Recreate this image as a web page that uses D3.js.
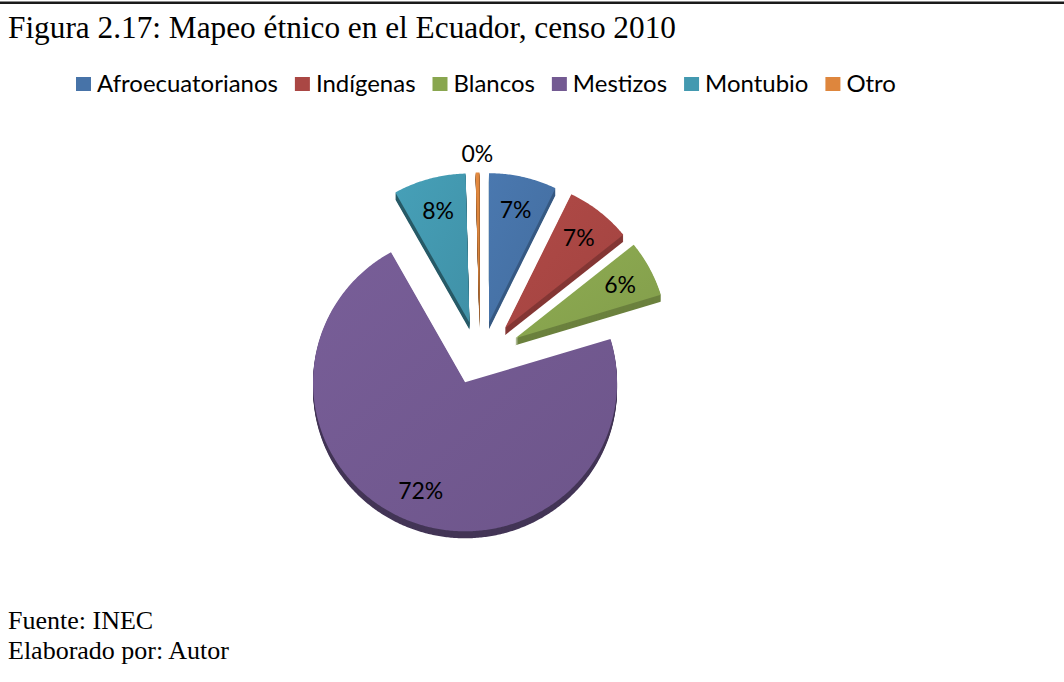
<!DOCTYPE html>
<html>
<head>
<meta charset="utf-8">
<script src="https://cdn.jsdelivr.net/npm/d3@7"></script>
<style>
  html, body { margin: 0; padding: 0; background: #fff; }
  svg { display: block; }
</style>
</head>
<body>
<svg id="chart" width="1064" height="682"></svg>
<script>
// Census 2010 ethnic self-identification shares (percent)
const categories = ["Afroecuatorianos", "Indígenas", "Blancos", "Mestizos", "Montubio", "Otro"];
const values = [7.2, 7.0, 6.1, 71.6, 7.7, 0.4];
const colors = ["#4773A8", "#AA4744", "#89A64F", "#735A92", "#4399B0", "#DE863D"];

const titleText = "Figura 2.17: Mapeo étnico en el Ecuador, censo 2010";
const sourceLines = ["Fuente: INEC", "Elaborado por: Autor"];

const W = 1064, H = 682;
const svg = d3.select("#chart");
const defs = svg.append("defs");

// frame rule across the top
svg.append("rect").attr("x", 0).attr("y", 1.5).attr("width", W).attr("height", 2.5).attr("fill", "#1a1a1a");

// title
svg.append("text")
  .attr("x", 8).attr("y", 38)
  .attr("font-family", "'Liberation Serif', 'Times New Roman', serif")
  .attr("font-size", 31.3)
  .attr("fill", "#000")
  .text(titleText);

// source notes
svg.selectAll("text.src").data(sourceLines).join("text")
  .attr("class", "src")
  .attr("x", 8)
  .attr("y", (d, i) => 629 + i * 30)
  .attr("font-family", "'Liberation Serif', 'Times New Roman', serif")
  .attr("font-size", 26)
  .attr("fill", "#000")
  .text(d => d);

// ---- legend ----
const legendFont = "Lato, 'Open Sans', sans-serif";
const probe = svg.append("text").attr("font-family", legendFont).attr("font-size", 20).text(categories[0]);
const legendSize = 20 * 181 / probe.node().getComputedTextLength();
probe.remove();

const legend = svg.append("g");
let lx = 76;
categories.forEach((c, i) => {
  const g = legend.append("g").attr("transform", `translate(${lx},0)`);
  g.append("rect").attr("x", 0).attr("y", 77).attr("width", 15).attr("height", 14).attr("fill", colors[i]);
  const t = g.append("text")
    .attr("x", 21).attr("y", 92)
    .attr("font-family", legendFont)
    .attr("font-size", legendSize)
    .attr("fill", "#000")
    .text(c);
  lx += 21 + t.node().getComputedTextLength() + 17;
});

// ---- exploded 3D pie ----
const cx = 480, cy = 353;          // pie centre
const rx = 152, ry = 149;          // top-face radii
const explodeX = 40, explodeY = 31.6;
const depth = 7;                   // extrusion thickness
const total = d3.sum(values);

const pie = d3.pie().sort(null).value(d => d);
const arcs = pie(values);

function slicePath(a0, a1) {
  const n = Math.max(2, Math.ceil((a1 - a0) / 0.01));
  const pts = [[0, 0]];
  d3.range(n + 1).forEach(k => {
    const a = a0 + (a1 - a0) * k / n;
    pts.push([rx * Math.sin(a), -ry * Math.cos(a)]);
  });
  return d3.line()(pts) + "Z";
}

const slices = arcs.map((d, i) => {
  const mid = (d.startAngle + d.endAngle) / 2;
  return {
    d, i, mid,
    ox: cx + explodeX * Math.sin(mid),
    oy: cy - explodeY * Math.cos(mid),
    path: slicePath(d.startAngle, d.endAngle)
  };
});

// shading gradients for the top faces
slices.forEach(s => {
  const base = d3.color(colors[s.i]);
  const g = defs.append("linearGradient")
    .attr("id", "grad" + s.i)
    .attr("x1", 0).attr("y1", 0).attr("x2", 1).attr("y2", 1);
  g.append("stop").attr("offset", "0%").attr("stop-color", base.brighter(0.12));
  g.append("stop").attr("offset", "100%").attr("stop-color", base.darker(0.15));
});

const pieG = svg.append("g");

// side walls: stacked copies of each slice shifted downward;
// walls on the left half sit in shadow
slices.forEach(s => {
  const shade = s.mid > Math.PI ? 1.5 : 0.7;
  const side = d3.color(colors[s.i]).darker(shade);
  const g = pieG.append("g").attr("transform", `translate(${s.ox},${s.oy})`);
  d3.range(depth, 0, -1).forEach(k => {
    g.append("path")
      .attr("d", s.path)
      .attr("transform", `translate(0,${k})`)
      .attr("fill", side);
  });
});

// top faces
slices.forEach(s => {
  pieG.append("path")
    .attr("transform", `translate(${s.ox},${s.oy})`)
    .attr("d", s.path)
    .attr("fill", `url(#grad${s.i})`);
});

// percentage labels
const pct = d3.format(".0%");
slices.forEach(s => {
  const share = s.d.value / total;
  const lr = share < 0.01 ? 1.13 : 0.78;
  svg.append("text")
    .attr("x", s.ox + lr * rx * Math.sin(s.mid))
    .attr("y", s.oy - lr * ry * Math.cos(s.mid))
    .attr("text-anchor", "middle")
    .attr("dominant-baseline", "central")
    .attr("font-family", legendFont)
    .attr("font-size", 23)
    .attr("fill", "#000")
    .text(pct(share));
});
</script>
</body>
</html>
